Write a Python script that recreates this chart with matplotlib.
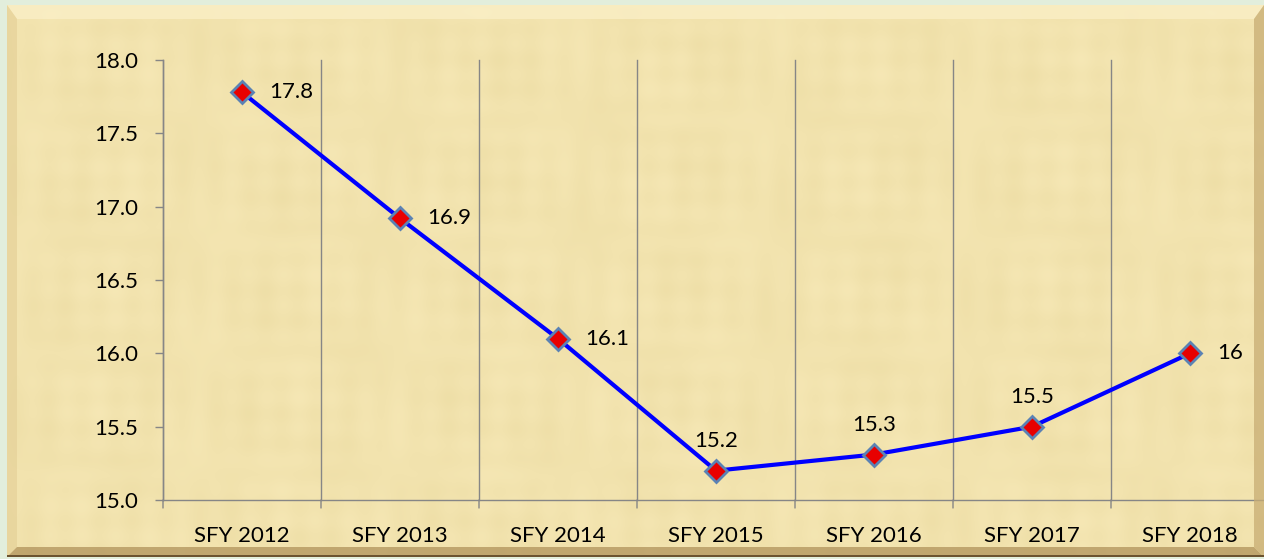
import numpy as np
import matplotlib
matplotlib.use("Agg")
import matplotlib.pyplot as plt
from matplotlib.patches import Polygon, Rectangle

# data
years = ["SFY 2012", "SFY 2013", "SFY 2014", "SFY 2015", "SFY 2016", "SFY 2017", "SFY 2018"]
values = [17.78, 16.92, 16.10, 15.20, 15.31, 15.50, 16.00]
label_above = [False, False, False, True, True, True, False]

plt.rcParams['font.family'] = ['Lato', 'DejaVu Sans']
FS = 16

W, H = 1264, 559
fig = plt.figure(figsize=(W / 100, H / 100), dpi=100)
fig.patch.set_facecolor("#e2eedc")


def px(x, y):
    # pixel coords (top-left origin) -> figure fraction
    return (x / W, 1 - y / H)


# papyrus panel with a soft texture
L, T, R, B = 7, 5, 1264, 557
bg = fig.add_axes([L / W, 1 - B / H, (R - L) / W, (B - T) / H])
bg.set_axis_off()
yy, xx = np.mgrid[0:B - T, 0:R - L]
tex = (0.4 * np.sin(xx / 5.3) * np.sin(yy / 37.0)
       + 0.3 * np.sin(yy / 4.9) * np.sin(xx / 61.0)
       + 0.5 * np.sin(xx / 57.0 + yy / 31.0) * np.sin(xx / 23.0 - yy / 47.0))
base = np.array([242, 227, 174]) / 255.0
img = base[None, None, :] + tex[..., None] * np.array([0.012, 0.014, 0.022])[None, None, :]
bg.imshow(np.clip(img, 0, 1), aspect="auto", extent=[0, 1, 0, 1])
bg.set_xlim(0, 1)
bg.set_ylim(0, 1)

# bevelled edges
bw_top, bw = 14, 10
edges = [
    ([(L, T), (R, T), (R - bw, T + bw_top), (L + bw, T + bw_top)], "#fbf0c8"),
    ([(L, T), (L + bw, T + bw_top), (L + bw, B - bw), (L, B)], "#e6d29a"),
    ([(L, B), (L + bw, B - bw), (R - bw, B - bw), (R, B)], "#b0925a"),
    ([(R, T), (R, B), (R - bw, B - bw), (R - bw, T + bw_top)], "#c8ad74"),
]
for pts, c in edges:
    fig.patches.append(Polygon([px(x, y) for x, y in pts], closed=True,
                               transform=fig.transFigure, facecolor=c,
                               edgecolor="none", alpha=0.75))
fig.patches.append(Rectangle(px(L, B), (R - L) / W, 2.5 / H, transform=fig.transFigure,
                             facecolor="#6b5330", edgecolor="none"))

# plot area
x0, x1, y_top, y_bot = 163, 1269, 60, 500
ax = fig.add_axes([x0 / W, 1 - y_bot / H, (x1 - x0) / W, (y_bot - y_top) / H])
ax.patch.set_alpha(0)
ax.set_xlim(-0.5, len(years) - 0.5)
ax.set_ylim(15.0, 18.0)
ax.set_yticks(np.arange(15.0, 18.01, 0.5))
ax.set_yticklabels([f"{v:.1f}" for v in np.arange(15.0, 18.01, 0.5)])
ax.set_xticks(range(len(years)))
ax.set_xticklabels(years)
ax.tick_params(axis="x", length=0, pad=19, labelsize=FS, colors="black")
ax.tick_params(axis="y", length=6, width=1, color="#868686", pad=12, labelsize=FS)

for s in ["top", "right"]:
    ax.spines[s].set_visible(False)
for s in ["left", "bottom"]:
    ax.spines[s].set_color("#868686")
    ax.spines[s].set_linewidth(1)

# vertical gridlines between categories, extending as tick marks below the axis
for i in range(len(years) + 1):
    xb = i - 0.5
    ax.plot([xb, xb], [15.0, 18.0], color="#868686", lw=1, zorder=1, clip_on=False)
    ax.annotate("", xy=(xb, 15.0), xytext=(0, -8), textcoords="offset pixels",
                xycoords="data",
                arrowprops=dict(arrowstyle="-", color="#868686", lw=1,
                                shrinkA=0, shrinkB=0))

xs = np.arange(len(years))
ax.plot(xs, values, color="#0000ff", lw=3, zorder=3, solid_capstyle="round")
ax.plot(xs, values, linestyle="none", marker="D", markersize=11,
        markerfacecolor="#e80000", markeredgecolor="#5b82b4", markeredgewidth=2,
        zorder=4)

for x, v, above in zip(xs, values, label_above):
    txt = f"{v:.1f}".rstrip("0").rstrip(".")
    if above:
        ax.annotate(txt, (x, v), xytext=(0, 20), textcoords="offset pixels",
                    ha="center", va="bottom", fontsize=FS)
    else:
        ax.annotate(txt, (x, v), xytext=(27, 0), textcoords="offset pixels",
                    ha="left", va="center", fontsize=FS)

fig.savefig("out.png", dpi=100, facecolor=fig.get_facecolor())
